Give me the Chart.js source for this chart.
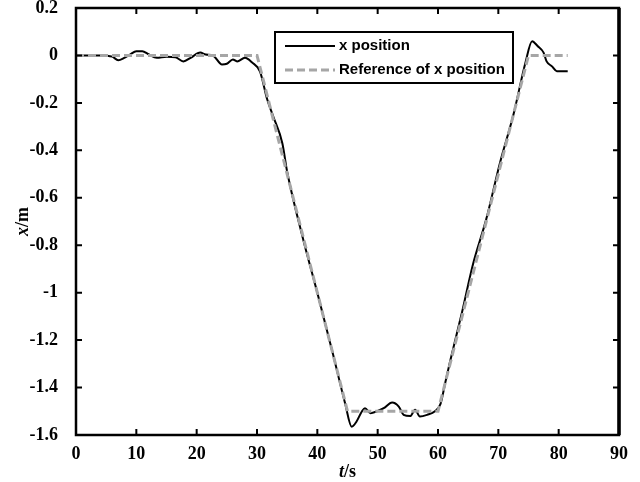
<!DOCTYPE html>
<html lang="en">
<head>
  <meta charset="UTF-8">
  <title>x position vs time</title>
  <style>
    body { margin: 0; background: #fff; }
    #wrap { width: 640px; height: 482px; }
  </style>
  <script src="https://cdn.jsdelivr.net/npm/chart.js"></script>
</head>
<body>
  <div id="wrap"><canvas id="posChart" width="640" height="482"></canvas></div>

  <script>
    const measTime = [0, 2, 4, 6, 7, 8, 9, 10, 11, 12, 13.4, 15, 16.5, 17.8, 19, 20.6, 21.5, 22.7, 24.2, 25,
      26, 26.7, 28, 29.2, 30.5, 31.7, 32.7, 34.2, 35, 37.5, 40, 42.6, 44.6, 45.7, 46.5, 47.4, 47.9, 48.8, 49.9,
      51, 52.4, 53.5, 54.3, 55.4, 56.2, 57, 58.2, 59.5, 60.4, 61.2, 62, 64, 65.8, 68, 70.3, 72.5, 74.5, 75.6,
      76.5, 77.5, 78, 78.9, 79.7, 81.5];
    const measPos = [0, 0, 0, -0.005, -0.02, -0.01, 0.005, 0.018, 0.018, 0.005, -0.01, -0.005, -0.008, -0.025,
      -0.01, 0.012, 0.004, 0, -0.038, -0.035, -0.017, -0.025, -0.01, -0.03, -0.068, -0.186, -0.258, -0.37,
      -0.49, -0.76, -1.0, -1.26, -1.466, -1.565, -1.543, -1.5, -1.487, -1.508, -1.5, -1.487, -1.463, -1.48,
      -1.515, -1.52, -1.494, -1.522, -1.515, -1.5, -1.47, -1.38, -1.29, -1.08, -0.88, -0.69, -0.45, -0.25,
      -0.03, 0.06, 0.04, 0.012, -0.025, -0.046, -0.067, -0.067];

    // reference trajectory
    const refTime = [0, 30, 45, 60, 75, 81.5];
    const refPos = [0, 0, -1.5, -1.5, 0, 0];

    const xTicks = [0, 10, 20, 30, 40, 50, 60, 70, 80, 90];
    const yTicks = [0.2, 0, -0.2, -0.4, -0.6, -0.8, -1, -1.2, -1.4, -1.6];
    const seriesNames = ['x position', 'Reference of x position'];

    const tickFont = { family: "'Liberation Serif', serif", size: 18, weight: 'bold' };

    // frame, inward ticks, axis titles and the legend box
    const framePlugin = {
      id: 'frame',
      afterDraw(chart) {
        const ctx = chart.ctx;
        const a = chart.chartArea;
        const sx = chart.scales.x, sy = chart.scales.y;
        ctx.save();
        ctx.strokeStyle = '#000';
        ctx.lineWidth = 2;
        ctx.beginPath();
        xTicks.forEach(v => {
          const px = sx.getPixelForValue(v);
          ctx.moveTo(px, a.bottom); ctx.lineTo(px, a.bottom - 6);
          ctx.moveTo(px, a.top); ctx.lineTo(px, a.top + 6);
        });
        yTicks.forEach(v => {
          const py = sy.getPixelForValue(v);
          ctx.moveTo(a.left, py); ctx.lineTo(a.left + 6, py);
          ctx.moveTo(a.right, py); ctx.lineTo(a.right - 6, py);
        });
        ctx.stroke();
        ctx.lineWidth = 2.5;
        ctx.strokeRect(a.left, a.top, a.right - a.left, a.bottom - a.top);
        ctx.lineWidth = 3.5;
        ctx.beginPath();
        ctx.moveTo(a.right, a.top); ctx.lineTo(a.right, a.bottom);
        ctx.stroke();

        // axis titles
        ctx.fillStyle = '#000';
        ctx.textBaseline = 'alphabetic';
        const it = "italic bold 18px 'Liberation Serif', serif";
        const bd = "bold 18px 'Liberation Serif', serif";
        const cx = (a.left + a.right) / 2;
        ctx.font = it; const wT = ctx.measureText('t').width;
        ctx.font = bd; const wS = ctx.measureText('/s').width;
        let x0 = cx - (wT + wS) / 2;
        ctx.font = it; ctx.fillText('t', x0, 477);
        ctx.font = bd; ctx.fillText('/s', x0 + wT, 477);

        ctx.save();
        ctx.translate(28, (a.top + a.bottom) / 2);
        ctx.rotate(-Math.PI / 2);
        ctx.font = it; const wX = ctx.measureText('x').width;
        ctx.font = bd; const wM = ctx.measureText('/m').width;
        x0 = -(wX + wM) / 2;
        ctx.font = it; ctx.fillText('x', x0, 0);
        ctx.font = bd; ctx.fillText('/m', x0 + wX, 0);
        ctx.restore();

        // legend
        const lx = 275, ly = 32, lw = 238, lh = 51;
        ctx.fillStyle = '#fff';
        ctx.fillRect(lx, ly, lw, lh);
        ctx.lineWidth = 2;
        ctx.strokeStyle = '#000';
        ctx.strokeRect(lx, ly, lw, lh);
        ctx.font = "bold 15px 'Liberation Sans', Arial, sans-serif";
        ctx.textBaseline = 'middle';
        chart.data.datasets.forEach((ds, i) => {
          const ry = ly + 14 + i * 24;
          ctx.strokeStyle = ds.borderColor;
          ctx.lineWidth = ds.borderWidth;
          ctx.setLineDash(ds.borderDash || []);
          ctx.beginPath();
          ctx.moveTo(lx + 10, ry); ctx.lineTo(lx + 60, ry);
          ctx.stroke();
          ctx.setLineDash([]);
          ctx.fillStyle = '#000';
          ctx.fillText(ds.label, lx + 64, ry);
        });
        ctx.restore();
      }
    };

    const ctx = document.getElementById('posChart').getContext('2d');
    const chart = new Chart(ctx, {
      type: 'line',
      data: {
        datasets: [
          {
            label: seriesNames[0],
            data: measTime.map((t, i) => ({ x: t, y: measPos[i] })),
            borderColor: '#000',
            borderWidth: 2,
            pointRadius: 0,
            cubicInterpolationMode: 'monotone',
            fill: false,
            order: 2
          },
          {
            label: seriesNames[1],
            data: refTime.map((t, i) => ({ x: t, y: refPos[i] })),
            borderColor: '#a6a6a6',
            borderWidth: 3,
            borderDash: [8, 4],
            pointRadius: 0,
            tension: 0,
            fill: false,
            order: 1
          }
        ]
      },
      options: {
        responsive: false,
        animation: false,
        layout: { padding: { top: 8, right: 21, left: 0, bottom: 0 } },
        plugins: { legend: { display: false }, tooltip: { enabled: false } },
        scales: {
          x: {
            type: 'linear',
            min: 0,
            max: 90,
            afterBuildTicks: s => { s.ticks = xTicks.map(v => ({ value: v })); },
            afterFit: s => { s.height = 47; s.paddingLeft = 0; s.paddingRight = 0; },
            grid: { display: false },
            border: { display: false },
            ticks: { font: tickFont, color: '#000', padding: 1, maxRotation: 0, callback: v => String(v) }
          },
          y: {
            type: 'linear',
            min: -1.6,
            max: 0.2,
            afterBuildTicks: s => { s.ticks = yTicks.map(v => ({ value: v })); },
            afterFit: s => { s.width = 76; s.paddingTop = 0; s.paddingBottom = 0; },
            grid: { display: false },
            border: { display: false },
            ticks: { font: tickFont, color: '#000', padding: 10, callback: v => String(v) }
          }
        }
      },
      plugins: [framePlugin]
    });
  </script>
</body>
</html>
